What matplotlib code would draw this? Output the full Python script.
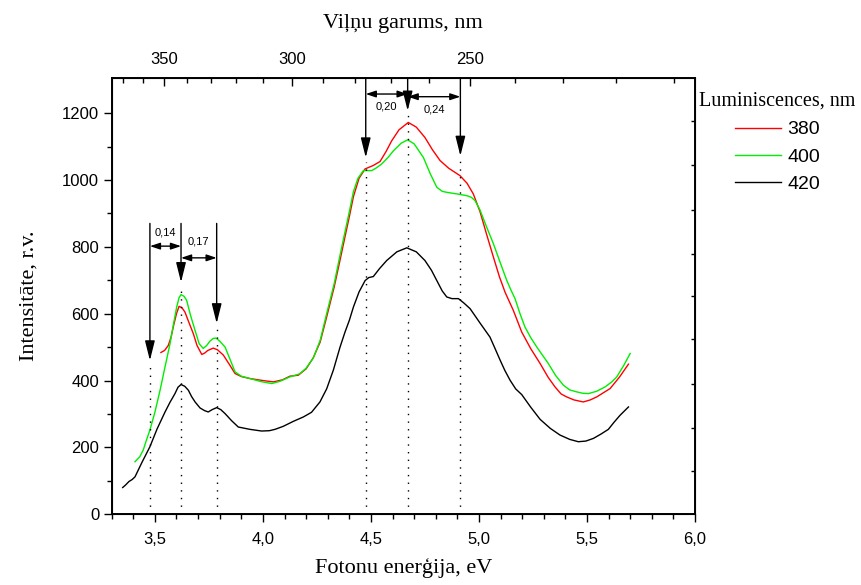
import numpy as np
import matplotlib
matplotlib.use("Agg")
import matplotlib.pyplot as plt
from matplotlib.ticker import FixedLocator, NullFormatter

SERIF = "Liberation Serif"
SANS = "Liberation Sans"

# ---------------- data ----------------
x_380 = [3.528, 3.545, 3.562, 3.575, 3.585, 3.600, 3.612, 3.625, 3.639, 3.655, 3.678, 3.695,
         3.717, 3.730, 3.745, 3.770, 3.790, 3.817, 3.845, 3.871, 3.900, 3.940, 4.000, 4.048,
         4.090, 4.125, 4.164, 4.200, 4.233, 4.265, 4.295, 4.330, 4.357, 4.380, 4.400, 4.419,
         4.445, 4.473, 4.510, 4.542, 4.570, 4.596, 4.630, 4.673, 4.710, 4.750, 4.785, 4.820,
         4.860, 4.912, 4.945, 4.974, 5.005, 5.036, 5.067, 5.095, 5.121, 5.159, 5.198, 5.240,
         5.283, 5.320, 5.352, 5.380, 5.406, 5.440, 5.483, 5.515, 5.545, 5.607, 5.650, 5.692]
y_380 = [484, 490, 505, 530, 560, 600, 622, 618, 605, 578, 540, 505,
         478, 482, 490, 497, 492, 476, 448, 421, 412, 406, 400, 396,
         402, 413, 416, 435, 468, 515, 590, 680, 760, 830, 890, 950,
         1005, 1033, 1043, 1055, 1085, 1117, 1150, 1172, 1158, 1127, 1090, 1058,
         1035, 1013, 990, 958, 905, 836, 769, 710, 664, 610, 545, 495,
         451, 410, 381, 360, 351, 342, 336, 342, 351, 376, 410, 449]

x_400 = [3.408, 3.430, 3.446, 3.460, 3.477, 3.500, 3.524, 3.545, 3.570, 3.585, 3.601, 3.612,
         3.621, 3.635, 3.647, 3.665, 3.686, 3.705, 3.724, 3.740, 3.755, 3.770, 3.783, 3.800,
         3.825, 3.850, 3.871, 3.900, 3.940, 3.990, 4.041, 4.080, 4.125, 4.170, 4.200, 4.233,
         4.265, 4.295, 4.330, 4.357, 4.380, 4.400, 4.419, 4.440, 4.465, 4.485, 4.504, 4.525,
         4.550, 4.580, 4.604, 4.640, 4.670, 4.700, 4.743, 4.775, 4.805, 4.830, 4.851, 4.900,
         4.944, 4.965, 4.982, 5.005, 5.035, 5.067, 5.100, 5.129, 5.150, 5.167, 5.190, 5.213,
         5.240, 5.268, 5.295, 5.321, 5.355, 5.391, 5.420, 5.453, 5.480, 5.507, 5.545, 5.584,
         5.615, 5.638, 5.670, 5.700]
y_400 = [157, 172, 192, 220, 252, 305, 371, 435, 510, 565, 620, 648,
         657, 652, 640, 595, 550, 510, 496, 505, 518, 526, 527, 518,
         500, 460, 426, 413, 406, 397, 391, 398, 411, 420, 437, 467,
         520, 600, 690, 775, 845, 905, 965, 1005, 1028, 1028, 1028, 1036,
         1048, 1068, 1087, 1110, 1120, 1108, 1067, 1018, 978, 966, 963, 958,
         953, 948, 938, 910, 860, 809, 750, 699, 668, 645, 600, 560,
         528, 500, 475, 451, 415, 386, 372, 366, 362, 361, 368, 381,
         396, 411, 445, 481]

x_420 = [3.351, 3.365, 3.380, 3.395, 3.408, 3.440, 3.477, 3.510, 3.547, 3.570, 3.593, 3.607,
         3.621, 3.638, 3.655, 3.670, 3.686, 3.709, 3.730, 3.747, 3.765, 3.786, 3.805, 3.825,
         3.855, 3.886, 3.940, 3.994, 4.030, 4.056, 4.094, 4.141, 4.187, 4.225, 4.264, 4.295,
         4.326, 4.357, 4.380, 4.400, 4.419, 4.445, 4.473, 4.490, 4.511, 4.540, 4.573, 4.620,
         4.666, 4.710, 4.750, 4.780, 4.805, 4.830, 4.851, 4.875, 4.905, 4.930, 4.959, 5.005,
         5.051, 5.075, 5.098, 5.120, 5.144, 5.170, 5.198, 5.240, 5.283, 5.330, 5.375, 5.420,
         5.460, 5.495, 5.530, 5.565, 5.599, 5.625, 5.653, 5.692]
y_420 = [80, 88, 98, 104, 112, 155, 202, 255, 306, 335, 361, 380,
         388, 383, 371, 352, 336, 318, 310, 306, 313, 319, 313, 301,
         280, 261, 254, 249, 250, 254, 263, 278, 291, 305, 336, 375,
         431, 500, 545, 580, 620, 665, 699, 708, 711, 735, 759, 785,
         797, 785, 759, 730, 699, 668, 650, 645, 645, 632, 615, 572,
         530, 495, 461, 430, 401, 375, 358, 320, 284, 257, 237, 224,
         217, 219, 227, 240, 254, 275, 296, 321]

series_labels = ["380", "400", "420"]
series_colors = ["#ff0000", "#00ee00", "#000000"]

# peak energies marked with arrows (eV) and their separations
peaks_low = [3.477, 3.621, 3.786]
peaks_high = [4.476, 4.670, 4.914]
tips_low = [460, 694, 571]
tips_high = [1067, 1207, 1072]
sep_low = ["0,14", "0,17"]
sep_high = ["0,20", "0,24"]

xticks = [3.5, 4.0, 4.5, 5.0, 5.5, 6.0]
xtick_labels = ["3,5", "4,0", "4,5", "5,0", "5,5", "6,0"]
yticks = [0, 200, 400, 600, 800, 1000, 1200]
wl_major = [350, 300, 250]
wl_minor = [370, 360, 340, 330, 320, 310, 290, 280, 270, 260, 240, 230, 220, 210]

# ---------------- figure ----------------
fig = plt.figure(figsize=(8.61, 5.85), dpi=100)
ax = fig.add_axes([0.1297, 0.1209, 0.6775, 0.7458])
ax.set_xlim(3.3, 6.0)
ax.set_ylim(0, 1305)

for xs, ys, lab, col in zip([x_380, x_400, x_420], [y_380, y_400, y_420], series_labels, series_colors):
    ax.plot(xs, ys, color=col, lw=1.0, label=lab)

# dotted vertical lines and arrows
varrow = dict(arrowstyle="-|>,head_length=1.0,head_width=0.25",
              color="black", lw=1.0, mutation_scale=12, shrinkA=0, shrinkB=0)
for xp, tip in zip(peaks_low, tips_low):
    ax.plot([xp, xp], [0, tip - 12], color="black", lw=1.0, ls=(0, (1, 4.5)))
    ax.annotate("", xy=(xp, tip), xytext=(xp, 870), arrowprops=varrow)
for xp, tip in zip(peaks_high, tips_high):
    ax.plot([xp, xp], [0, tip - 12], color="black", lw=1.0, ls=(0, (1, 4.5)))
    ax.annotate("", xy=(xp, tip), xytext=(xp, 1305), arrowprops=varrow)

harrow = dict(arrowstyle="<|-|>,head_length=0.6,head_width=0.2", color="black", lw=1.0,
              mutation_scale=10, shrinkA=0, shrinkB=0)
for (x1, x2), yy, lab, ty in zip([(peaks_low[0], peaks_low[1]), (peaks_low[1], peaks_low[2])],
                                 [802, 767], sep_low, [843, 817]):
    ax.annotate("", xy=(x2, yy), xytext=(x1, yy), arrowprops=harrow)
    ax.text((x1 + x2) / 2, ty, lab, ha="center", va="center", fontsize=8, family=SANS)
for (x1, x2), yy, lab, ty in zip([(peaks_high[0], peaks_high[1]), (peaks_high[1], peaks_high[2])],
                                 [1257, 1249], sep_high, [1221, 1211]):
    ax.annotate("", xy=(x2, yy), xytext=(x1, yy), arrowprops=harrow)
    ax.text((x1 + x2) / 2, ty, lab, ha="center", va="center", fontsize=8, family=SANS)

# axes styling
ax.set_xticks(xticks)
ax.set_xticklabels(xtick_labels, family=SANS, fontsize=12)
ax.xaxis.set_minor_locator(FixedLocator(np.arange(3.3, 6.01, 0.1)))
ax.set_yticks(yticks)
ax.set_yticklabels([str(v) for v in yticks], family=SANS, fontsize=12)
ax.yaxis.set_minor_locator(FixedLocator(np.arange(100, 1300, 200)))
ax.tick_params(which="major", direction="out", length=6, width=1.0)
ax.tick_params(which="minor", direction="out", length=3.5, width=1.0)
ax.tick_params(axis="x", which="both", top=False, pad=7)
ax.tick_params(axis="y", which="both", right=False, pad=3)
for sp in ax.spines.values():
    sp.set_linewidth(1.2)

ax.set_xlabel("Fotonu enerģija, eV", family=SERIF, fontsize=16, labelpad=8)
ax.set_ylabel("Intensitāte, r.v.", family=SERIF, fontsize=16, labelpad=17)

# top wavelength axis
ax2 = ax.twiny()
ax2.set_xlim(ax.get_xlim())
ax2.set_xticks([1240.0 / w for w in wl_major])
ax2.set_xticklabels([str(w) for w in wl_major], family=SANS, fontsize=12)
ax2.xaxis.set_minor_locator(FixedLocator([1240.0 / w for w in wl_minor]))
ax2.tick_params(which="major", direction="in", length=6, width=1.0, pad=8)
ax2.tick_params(which="minor", direction="in", length=3.5, width=1.0)
ax2.set_xlabel("Viļņu garums, nm", family=SERIF, fontsize=16, labelpad=17)
for sp in ax2.spines.values():
    sp.set_linewidth(1.2)

# right side small inward ticks
ax3 = ax.twinx()
ax3.set_ylim(ax.get_ylim())
ax3.set_yticks([128, 259, 390, 524, 652, 780, 911, 1045, 1176])
ax3.yaxis.set_major_formatter(NullFormatter())
ax3.tick_params(direction="in", length=3, width=1.0)

# legend
h, l = ax.get_legend_handles_labels()
leg = fig.legend(h, l, title="Luminiscences, nm", loc="upper left",
                 bbox_to_anchor=(0.796, 0.866), frameon=False,
                 prop={"family": SANS, "size": 14}, handlelength=2.4,
                 handletextpad=0.3, labelspacing=0.5, borderpad=0.2)
leg.get_title().set_fontfamily(SERIF)
leg.get_title().set_fontsize(14.5)

fig.savefig("out.png", dpi=100)
